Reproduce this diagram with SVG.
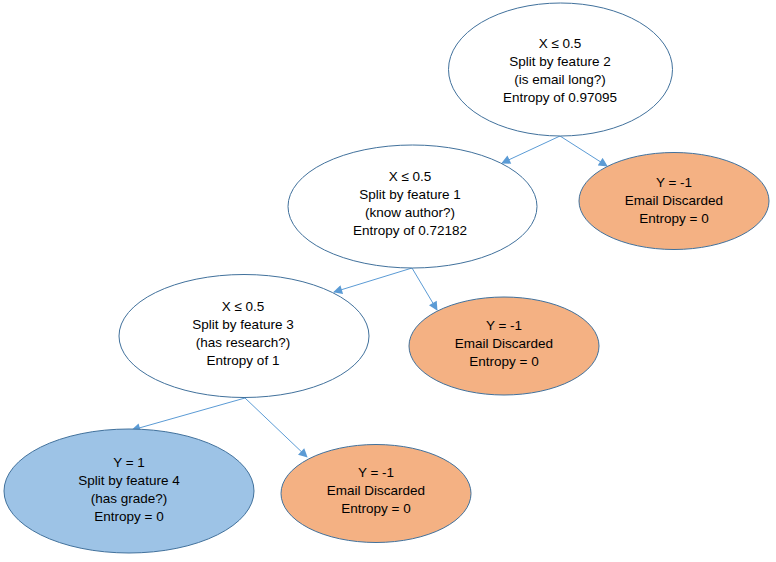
<svg xmlns="http://www.w3.org/2000/svg" width="776" height="562" viewBox="0 0 776 562">
<style>
.n{stroke:#41719C;stroke-width:1}
.w{fill:#FFFFFF}
.o{fill:#F4B183}
.b{fill:#9DC3E6}
text{font-family:"Liberation Sans",Arial,sans-serif;font-size:13.5px;fill:#000;text-anchor:middle}
.c line{stroke:#5B9BD5;stroke-width:1;marker-end:url(#ah)}
</style>
<defs>
<marker id="ah" viewBox="0 0 10 10" refX="9" refY="5" markerWidth="10" markerHeight="9" markerUnits="userSpaceOnUse" orient="auto">
<path d="M0,0 L10,5 L0,10 z" fill="#5B9BD5"/>
</marker>
</defs>
<rect width="776" height="562" fill="#FFFFFF"/>
<g id="connectors" class="c">
<line x1="560" y1="136" x2="502" y2="163"/>
<line x1="560" y1="136" x2="607" y2="166"/>
<line x1="412" y1="268" x2="334" y2="292"/>
<line x1="412" y1="268" x2="437" y2="310"/>
<line x1="245" y1="398" x2="132" y2="430"/>
<line x1="245" y1="398" x2="307" y2="457"/>
</g>
<g id="n1">
<ellipse class="n w" cx="560.5" cy="69.5" rx="112" ry="66.5"/>
<text x="560" y="48">X ≤ 0.5</text>
<text x="560" y="66">Split by feature 2</text>
<text x="560" y="84">(is email long?)</text>
<text x="560" y="102">Entropy of 0.97095</text>
</g>
<g id="n2">
<ellipse class="n o" cx="674" cy="201" rx="95" ry="48.5"/>
<text x="674" y="187">Y = -1</text>
<text x="674" y="205">Email Discarded</text>
<text x="674" y="223">Entropy = 0</text>
</g>
<g id="n3">
<ellipse class="n w" cx="412.5" cy="206.5" rx="124.5" ry="61.5"/>
<text x="410" y="181">X ≤ 0.5</text>
<text x="410" y="199">Split by feature 1</text>
<text x="410" y="217">(know author?)</text>
<text x="410" y="235">Entropy of 0.72182</text>
</g>
<g id="n4">
<ellipse class="n o" cx="504" cy="346" rx="95" ry="49"/>
<text x="504" y="330">Y = -1</text>
<text x="504" y="348">Email Discarded</text>
<text x="504" y="366">Entropy = 0</text>
</g>
<g id="n5">
<ellipse class="n w" cx="244" cy="336" rx="125" ry="61.5"/>
<text x="243" y="311">X ≤ 0.5</text>
<text x="243" y="329">Split by feature 3</text>
<text x="243" y="347">(has research?)</text>
<text x="243" y="365">Entropy of 1</text>
</g>
<g id="n6">
<ellipse class="n b" cx="129" cy="491" rx="125" ry="62"/>
<text x="129" y="467">Y = 1</text>
<text x="129" y="485">Split by feature 4</text>
<text x="129" y="503">(has grade?)</text>
<text x="129" y="521">Entropy = 0</text>
</g>
<g id="n7">
<ellipse class="n o" cx="376" cy="493.5" rx="95" ry="49"/>
<text x="376" y="477">Y = -1</text>
<text x="376" y="495">Email Discarded</text>
<text x="376" y="513">Entropy = 0</text>
</g>
</svg>
